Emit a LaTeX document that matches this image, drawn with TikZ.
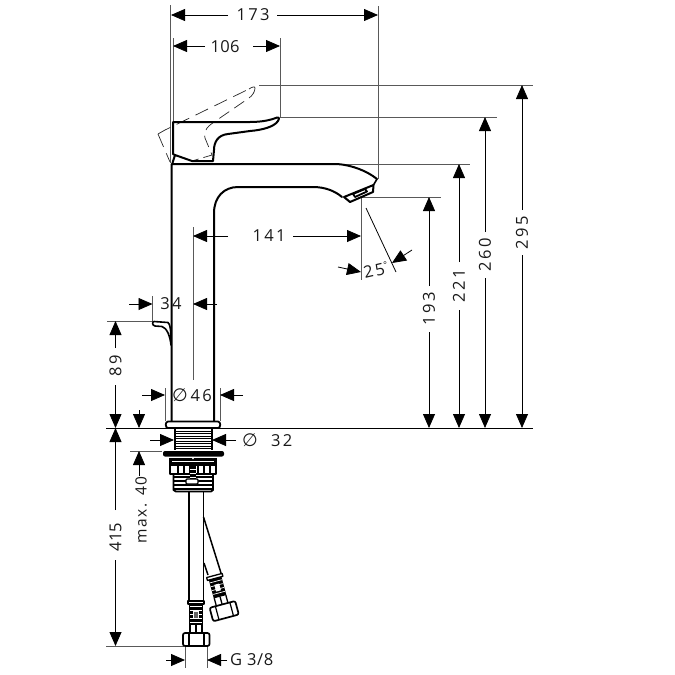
\documentclass[tikz,border=0pt]{standalone}
\usepackage{fontspec}
\setmainfont[LetterSpace=14]{Open Sans}
\newfontfamily\symfont{DejaVu Sans}
\usetikzlibrary{arrows.meta}
\tikzset{
  dimarr/.style={draw=black,line width=0.8pt,-{Triangle[length=14pt,width=12pt]}},
  dimline/.style={draw=black,line width=0.8pt},
  ext/.style={draw=black!65,line width=1pt},
  body/.style={draw=black,line width=2pt,line join=round,line cap=round},
  thin part/.style={draw=black,line width=1.1pt,line join=round},
  ghost/.style={draw=black!85,line width=0.7pt,dash pattern=on 14pt off 7pt},
  dimtext/.style={font=\fontsize{16.5}{17}\selectfont,text=black!90,inner sep=0pt}
}
\newcommand{\dia}{{\symfont\fontsize{18}{18}\selectfont ∅}}
\begin{document}
\begin{tikzpicture}[x=1pt,y=-1pt]
\useasboundingbox (0,0) rectangle (675,675);
% extension lines
\draw[ext] (170.5,5) -- (170.5,163);
\draw[ext] (173,38) -- (173,122);
\draw[ext] (378,6) -- (378,179);
\draw[ext] (280,38) -- (280,117);
\draw[ext] (259,85) -- (533,85);
\draw[ext] (280,117) -- (497,117);
\draw[ext] (340,164) -- (470,164);
\draw[ext] (362,197) -- (441,197);
\draw[dimline] (106,428) -- (533,428);
\draw[ext] (193,227) -- (193,380);
\draw[ext] (361,198) -- (361,280);
\draw[dimline] (366,208) -- (396,272);
\draw[ext] (152.5,296) -- (152.5,321);
\draw[ext] (107,321) -- (153,321);
\draw[ext] (165,388) -- (165,421);
\draw[ext] (220,388) -- (220,421);
\draw[ext] (130,451) -- (162,451);
\draw[ext] (106,646) -- (184,646);
\draw[ext] (185,646) -- (185,668);
\draw[ext] (207,646) -- (207,668);
% ghost handle
\draw[ghost] (158,134) -- (170,162);
\draw[ghost] (158,134) -- (165,130) -- (249,89);
\draw[ghost,dash pattern=on 12pt off 6pt] (255,88) .. controls (255,92) and (252,96) .. (249,98) -- (217,120) .. controls (208,126) and (203,130) .. (205,138) -- (212,155);
\draw[ghost,dash pattern=on 9pt off 5pt] (212,155) -- (192,161);
\draw[ghost,solid] (249,89) .. controls (252,87) and (255,86) .. (255,88);
% faucet body
\draw[body] (171.5,422) -- (171.5,164) -- (337,164) .. controls (352,165) and (367,171) .. (377,179);
\draw[body] (214,421) -- (214,213) .. controls (214,197) and (224,187) .. (238,187) -- (313,187)
  .. controls (325,187) and (335,191) .. (342,197);
\draw[body,line width=1.6pt] (377,179) -- (373.5,185);
% aerator
\draw[thin part,line width=2pt] (373.5,185) -- (344,197) -- (350,202) -- (373,192) -- cycle;
\draw[thin part,line width=1.8pt] (353,194) -- (365,189) -- (367,191.5) -- (355,197) -- cycle;
% handle
\draw[body] (172.5,163) -- (175,155) -- (173,154) -- (173,122) -- (250,122)
  .. controls (262,122) and (271,120) .. (277,117.5) .. controls (280,117) and (279,120) .. (278,121)
  .. controls (274,127) and (262,130) .. (250,131) -- (228,134) .. controls (218,135) and (214,142) .. (214,150) -- (213,161) -- (192,161) -- (175,155);
% pop-up lever
\draw[body,line width=1.6pt] (171,345) .. controls (171,336) and (171,325) .. (168,322.5) -- (154,321.5)
 .. controls (152,321.5) and (152,325.5) .. (155,326) -- (162,326.5) .. controls (167,328) and (170,336) .. (171,345);
% flange
\draw[thin part,line width=1.8pt,fill=white] (168,421.5) -- (218,421.5) .. controls (221,421.5) and (221,428) .. (218,428) -- (168,428) .. controls (165,428) and (165,421.5) .. (168,421.5) -- cycle;
% thread
\draw[thin part,line width=1.6pt] (175,428) -- (175,450) (212,428) -- (212,450);
\foreach \yy in {431,433.5,...,449}{\draw[line width=0.9pt] (175,\yy) -- (212,\yy);}
% plate
\fill[black,rounded corners=2pt] (163,451) rectangle (224,456.5);
% nut
\fill[black] (169,458) rectangle (217,465);
\fill[white] (172,460.5) rectangle (214,462);
\draw[thin part,line width=1.8pt] (170,465) rectangle (216,474);
\foreach \xx in {178,184,190,198,204,210}{\draw[line width=1.2pt] (\xx,465) -- (\xx,474);}
\fill[white] (193,458.5) circle (0.9pt);
% lower thread
\draw[thin part,line width=1.8pt] (173.5,474) -- (173.5,490) -- (176,491.5) -- (211,491.5) -- (213,490) -- (213,474);
\foreach \yy in {477,481,485,489}{\draw[line width=1.1pt] (174,\yy) -- (213,\yy);}
\fill[black] (190,465) rectangle (196,481);
\draw[line width=0.9pt,white] (190,469) -- (196,469) (190,473) -- (196,473) (190,477) -- (196,477);
\draw[thin part,fill=white,rounded corners=1pt,line width=1.4pt] (186,479) rectangle (198,484);
% hoses
\draw[thin part,line width=1.6pt] (189,492) -- (189,600) (203.5,492) -- (203.5,600);
\draw[thin part,line width=1.5pt] (203.5,517) -- (221,573);
\draw[thin part,line width=1.5pt] (204,563) -- (208,575);
% vertical crimp
\draw[thin part,fill=white,line width=1.4pt] (188,601) rectangle (204,604);
\fill[black] (189,604) rectangle (203,625);
\foreach \yy in {606,610,614,618,622}{\draw[white,line width=0.7pt] (190,\yy) -- (202,\yy);}
\fill[white] (193,611) rectangle (199,619);
\fill[black!60] (194,612) rectangle (198,618);
\draw[thin part,line width=1.3pt] (190,625) -- (190,632) (196,625) -- (196,632) (202,625) -- (202,632);
\draw[thin part,fill=white,rounded corners=2pt,line width=1.7pt] (183,633) rectangle (209.5,646);
\draw[thin part,line width=1.2pt] (189,633) -- (189,646) (204,633) -- (204,646);
% branch crimp and nut
\begin{scope}[shift={(218,589)},rotate=15]
\draw[thin part,fill=white,line width=1.3pt] (-8,-14) rectangle (8,-11);
\fill[black] (-6.5,-11) rectangle (6.5,8);
\foreach \yy in {-8,-4,0,4}{\draw[white,line width=0.7pt] (-6,\yy) -- (6,\yy);}
\fill[white] (-2.5,-5) rectangle (2.5,2);
\draw[thin part,line width=1.3pt] (-6,8) -- (-6,17) (0,8) -- (0,17) (6,8) -- (6,17);
\draw[thin part,fill=white,rounded corners=2pt,line width=1.7pt] (-13,16) rectangle (13.5,30);
\draw[thin part,line width=1.2pt] (-7,16) -- (-7,30) (8,16) -- (8,30);
\end{scope}
% dimensions horizontal
\draw[dimarr] (228,15) -- (171,15);
\draw[dimarr] (277,15) -- (378,15);
\node[dimtext] (t173) at (253,15) {173};
\draw[dimarr] (205,46) -- (173,46);
\draw[dimarr] (253,46) -- (280,46);
\node[dimtext,font=\fontsize{16.5}{17}\selectfont\addfontfeature{LetterSpace=2}] (t106) at (225,47) {106};
\draw[dimarr] (228,236) -- (193,236);
\draw[dimarr] (293,236) -- (361,236);
\node[dimtext] (t141) at (269,236) {141};
\draw[dimarr] (129,304) -- (152.5,304);
\draw[dimarr] (217,304) -- (193,304);
\node[dimtext] (t34) at (171,304) {34};
\draw[dimarr] (142,395) -- (165,395);
\draw[dimarr] (243,395) -- (220,395);
\node[dimtext,anchor=west] (t46) at (172,395) {\dia\,46};
\draw[dimarr] (150,440) -- (174,440);
\draw[dimarr] (236,440) -- (212,440);
\node[dimtext,anchor=west] (t32) at (242,440) {\dia\ \ 32};
\draw[dimarr] (166,660) -- (185,660);
\draw[dimarr] (227,660) -- (207,660);
\node[dimtext,anchor=west] (tg) at (230,660) {\addfontfeature{LetterSpace=4}G 3/8};
\draw[dimarr] (338,267) -- (361,272);
\draw[dimarr] (412,250) -- (392,263);
\node[dimtext,rotate=13] (t25) at (376,270) {25\raisebox{6pt}{\fontsize{9}{9}\selectfont °}};
% dimensions vertical
\draw[dimarr] (522,210) -- (522,85);
\draw[dimarr] (522,255) -- (522,428);
\node[dimtext,rotate=90] (t295) at (522,233) {295};
\draw[dimarr] (485,232) -- (485,117);
\draw[dimarr] (485,278) -- (485,428);
\node[dimtext,rotate=90] (t260) at (485,255) {260};
\draw[dimarr] (459,262) -- (459,164);
\draw[dimarr] (459,310) -- (459,428);
\node[dimtext,rotate=90] (t221) at (459,286) {221};
\draw[dimarr] (429,286) -- (429,197);
\draw[dimarr] (429,332) -- (429,428);
\node[dimtext,rotate=90] (t193) at (429,309) {193};
\draw[dimarr] (115.5,348) -- (115.5,321);
\draw[dimarr] (115.5,385) -- (115.5,428);
\node[dimtext,rotate=90] (t89) at (115.5,366) {89};
\draw[dimarr] (115.5,510) -- (115.5,428);
\draw[dimarr] (115.5,560) -- (115.5,646);
\node[dimtext,rotate=90] (t415) at (115.5,537) {\addfontfeature{LetterSpace=0}415};
\draw[dimarr] (139,410) -- (139,428);
\draw[dimarr] (139,476) -- (139,451);
\node[dimtext,rotate=90,font=\fontsize{15.5}{16}\selectfont\addfontfeature{LetterSpace=10}] (tmax) at (141,510) {max. 40};
\end{tikzpicture}
\end{document}
